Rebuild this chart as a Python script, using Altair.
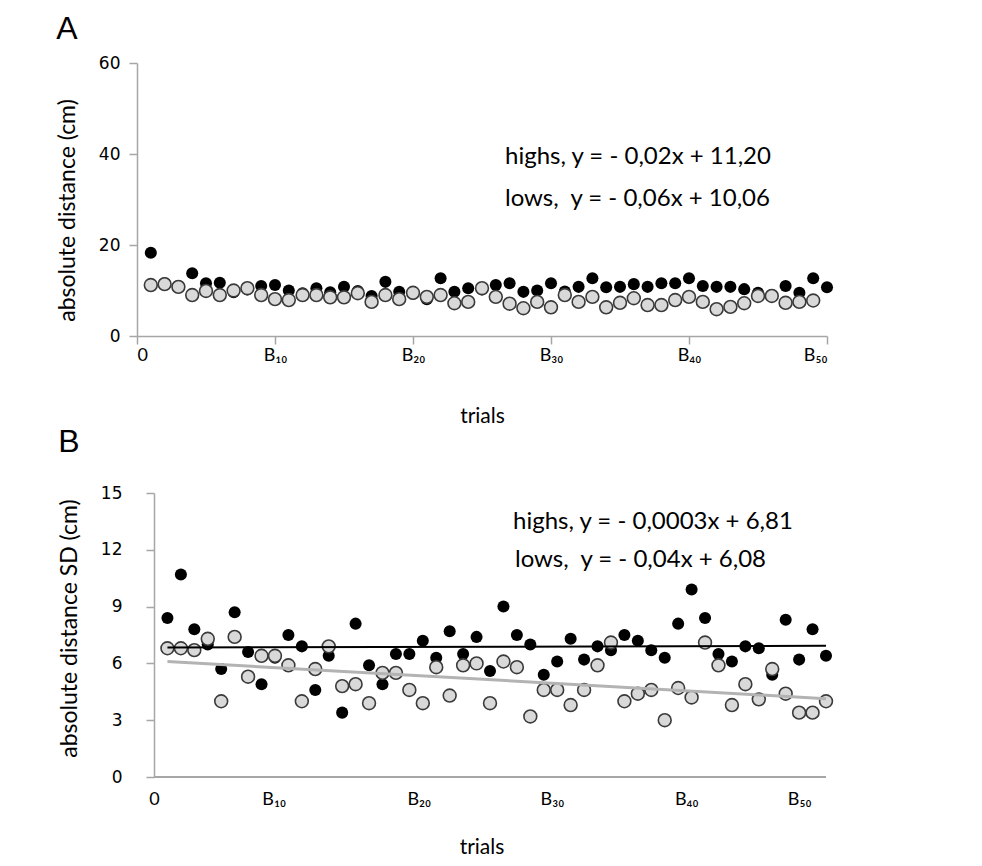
import altair as alt
import pandas as pd

trials = list(range(1, 51))

# Panel A: absolute distance (cm)
a_highs = [18.3, 11.6, 11.0, 13.8, 11.6, 11.7, 9.6, 10.2, 11.0, 11.2,
           10.0, 9.4, 10.5, 9.6, 10.8, 9.9, 8.8, 11.9, 9.7, 9.3,
           8.1, 12.7, 9.7, 10.5, 10.2, 11.2, 11.6, 9.7, 10.0, 11.6,
           9.8, 10.8, 12.7, 10.7, 10.8, 11.4, 10.8, 11.6, 11.6, 12.7,
           11.0, 10.8, 10.8, 10.3, 9.5, 9.0, 11.0, 9.5, 12.7, 10.7]
a_lows = [11.2, 11.4, 10.8, 9.0, 9.9, 9.0, 10.0, 10.5, 9.0, 8.1,
          7.9, 9.0, 9.0, 8.5, 8.5, 9.4, 7.5, 9.0, 8.1, 9.5,
          8.6, 9.0, 7.2, 7.5, 10.5, 8.6, 7.1, 6.1, 7.5, 6.3,
          9.0, 7.5, 8.6, 6.3, 7.3, 8.3, 6.8, 6.8, 7.9, 8.6,
          7.5, 5.9, 6.4, 7.2, 8.8, 8.8, 7.3, 7.5, 7.8]

# Panel B: absolute distance SD (cm)
b_highs = [8.4, 10.7, 7.8, 7.0, 5.7, 8.7, 6.6, 4.9, 6.3, 7.5,
           6.9, 4.6, 6.4, 3.4, 8.1, 5.9, 4.9, 6.5, 6.5, 7.2,
           6.3, 7.7, 6.5, 7.4, 5.6, 9.0, 7.5, 7.0, 5.4, 6.1,
           7.3, 6.2, 6.9, 6.7, 7.5, 7.2, 6.7, 6.3, 8.1, 9.9,
           8.4, 6.5, 6.1, 6.9, 6.8, 5.4, 8.3, 6.2, 7.8, 6.4]
b_lows = [6.8, 6.8, 6.7, 7.3, 4.0, 7.4, 5.3, 6.4, 6.4, 5.9,
          4.0, 5.7, 6.9, 4.8, 4.9, 3.9, 5.5, 5.5, 4.6, 3.9,
          5.8, 4.3, 5.9, 6.0, 3.9, 6.1, 5.8, 3.2, 4.6, 4.6,
          3.8, 4.6, 5.9, 7.1, 4.0, 4.4, 4.6, 3.0, 4.7, 4.2,
          7.1, 5.9, 3.8, 4.9, 4.1, 5.7, 4.4, 3.4, 3.4, 4.0]

x_tick_labels = ["0", "B\u2081\u2080", "B\u2082\u2080", "B\u2083\u2080", "B\u2084\u2080", "B\u2085\u2080"]
a_x_tick_values = [0, 10, 20, 30, 40, 50]
# panel B's category labels sit slightly off the round trial numbers in the original
b_x_tick_values = [0, 8.9, 19.7, 29.6, 39.6, 48.0]
a_y_ticks = [0, 20, 40, 60]
b_y_ticks = [0, 3, 6, 9, 12, 15]

eq_a = ["highs, y = - 0,02x + 11,20", "lows,\u00a0 y = - 0,06x + 10,06"]
eq_b = ["highs, y = - 0,0003x + 6,81", "lows,\u00a0 y = - 0,04x + 6,08"]


def label_expr(vals, labs):
    expr = "''"
    for v, l in reversed(list(zip(vals, labs))):
        expr = f"abs(datum.value - {v}) < 0.01 ? '{l}' : ({expr})"
    return expr


AXIS_GRAY = "#a6a6a6"
TXT_FONT = "Lato"
NUM_FONT = "DejaVu Sans"

dfa_h = pd.DataFrame({"trial": trials, "value": a_highs})
dfa_l = pd.DataFrame({"trial": trials[:len(a_lows)], "value": a_lows})
dfb_h = pd.DataFrame({"trial": trials, "value": b_highs})
dfb_l = pd.DataFrame({"trial": trials, "value": b_lows})


def panel(df_h, df_l, xdom, xticks, ydom, yticks, ytitle, eqs, w, h, lab_pad, eq_pos, letter,
          with_lines, is_a, y_offset, x_lab_pad, x_title_pad, title_offset, y_title_y):
    x = alt.X("trial:Q", scale=alt.Scale(domain=xdom, nice=False, zero=False),
              axis=alt.Axis(values=xticks, labelExpr=label_expr(xticks, x_tick_labels),
                            title="trials", grid=False, domain=is_a,
                            domainColor=AXIS_GRAY, tickColor=AXIS_GRAY, domainWidth=1.5,
                            tickWidth=1.5, tickSize=8, ticks=is_a,
                            labelFont=TXT_FONT, labelFontSize=18, labelColor="black",
                            labelPadding=x_lab_pad, titleFont=TXT_FONT, titleFontSize=21,
                            titleFontWeight="normal", titleColor="black",
                            titlePadding=x_title_pad))
    y = alt.Y("value:Q", scale=alt.Scale(domain=ydom, nice=False),
              axis=alt.Axis(values=yticks, title=ytitle, grid=False, offset=y_offset,
                            domainColor=AXIS_GRAY, tickColor=AXIS_GRAY, domainWidth=1.5,
                            tickWidth=1.5, tickSize=8, labelFont=NUM_FONT, labelFontSize=17,
                            labelColor="black", labelPadding=lab_pad, titleFont=TXT_FONT,
                            titleFontSize=23, titleFontWeight="normal", titleColor="black",
                            titlePadding=19, titleY=y_title_y))
    highs = alt.Chart(df_h).mark_circle(size=145, color="black", opacity=1).encode(x=x, y=y)
    lows = alt.Chart(df_l).mark_point(shape="circle", filled=True, size=165, fill="#d9d9d9",
                                      stroke="#3a3a3a", strokeWidth=1.6, opacity=1).encode(x=x, y=y)
    layers = [highs, lows]
    if not is_a:
        # x axis line drawn from trial 0 to trial 50
        axis_line = alt.Chart(df_h).mark_rule(color=AXIS_GRAY, strokeWidth=1.5).encode(
            x=alt.datum(0), x2=alt.datum(50), y=alt.datum(0))
        layers.insert(0, axis_line)
    if with_lines:
        lh = alt.Chart(df_h).transform_regression("trial", "value", extent=[1, 50]).mark_line(
            color="black", strokeWidth=2).encode(x="trial:Q", y="value:Q")
        ll = alt.Chart(df_l).transform_regression("trial", "value", extent=[1, 50]).mark_line(
            color="#b3b3b3", strokeWidth=3).encode(x="trial:Q", y="value:Q")
        layers += [lh, ll]
    df_eq = pd.DataFrame({"eq": eqs, "row": [0, 1]})
    for i, (px, py) in enumerate(eq_pos):
        t = alt.Chart(df_eq).transform_filter(f"datum.row == {i}").mark_text(
            align="left", baseline="middle", font=TXT_FONT, fontSize=24, color="black"
        ).encode(text="eq:N", x=alt.value(px), y=alt.value(py))
        layers.append(t)
    return alt.layer(*layers).properties(
        width=w, height=h,
        title=alt.TitleParams(letter, anchor="start", frame="bounds", font="Liberation Sans",
                              fontSize=32, fontWeight="normal", color="black",
                              offset=title_offset))


chart_a = panel(dfa_h, dfa_l, [0, 50], a_x_tick_values, [0, 60], a_y_ticks,
                "absolute distance (cm)", eq_a, 690, 273, 9,
                [(368, 94), (368, 136)], "A", False, True, 0, 2, 41, 8, 147)
chart_b = panel(dfb_h, dfb_l, [-1.265, 50], b_x_tick_values, [0, 15], b_y_ticks,
                "absolute distance SD (cm)", eq_b, 689, 284, 24,
                [(376, 29), (378, 67)], "B", True, False, -17, 13, 28, 25, 135)

chart = alt.vconcat(chart_a, chart_b, spacing=0).properties(
    padding={"left": 48, "top": 5, "right": 5, "bottom": 5}
).configure_view(stroke=None)

chart.save("out.html", embed_options={"renderer": "svg", "actions": False})
